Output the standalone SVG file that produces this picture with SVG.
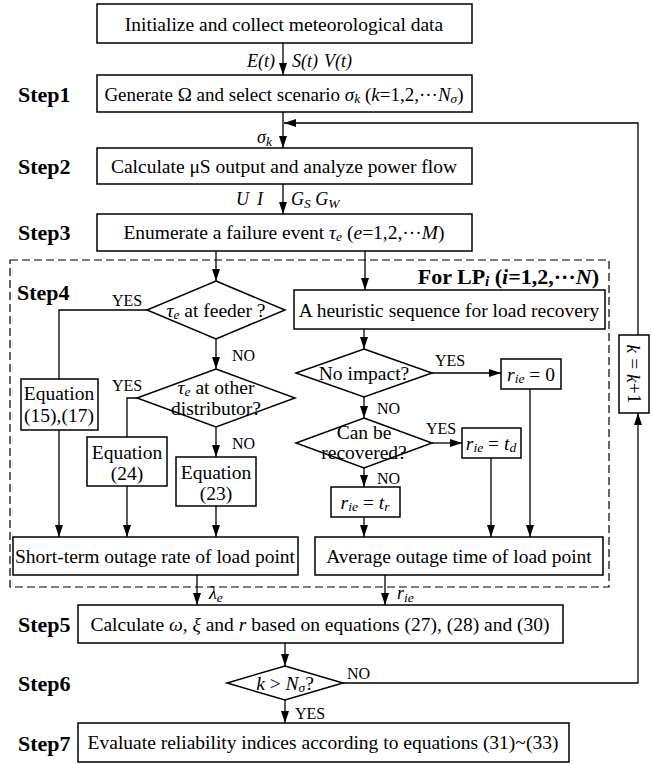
<svg xmlns="http://www.w3.org/2000/svg" width="652" height="764" viewBox="0 0 652 764">
<defs>
<marker id="ah" viewBox="0 0 12 8" refX="12" refY="4" markerWidth="12" markerHeight="8" markerUnits="userSpaceOnUse" orient="auto">
<path d="M0,0 L12,4 L0,8 Z" fill="#000"/>
</marker>
</defs>
<style>
.b{fill:#fff;stroke:#000;stroke-width:1.5}
.t{font-family:"Liberation Serif","Times New Roman",serif;font-size:19.5px;fill:#000;text-anchor:middle;dominant-baseline:central}
.s{font-family:"Liberation Serif","Times New Roman",serif;font-size:22px;font-weight:bold;fill:#000;dominant-baseline:central}
.l{font-family:"Liberation Serif","Times New Roman",serif;font-size:16px;fill:#000;dominant-baseline:central}
.m{font-family:"Liberation Serif","Times New Roman",serif;font-size:18px;font-style:italic;fill:#000;dominant-baseline:central}
.i{font-style:italic}
.u{font-size:13.5px}
.c{fill:none;stroke:#000;stroke-width:1.3}
.a{fill:none;stroke:#000;stroke-width:1.3;marker-end:url(#ah)}
.d{fill:none;stroke:#000;stroke-width:1.2;stroke-dasharray:8 4}
</style>
<rect x="0" y="0" width="652" height="764" fill="#fff"/>

<rect class="d" x="10" y="260" width="599" height="327"/>

<g id="labels">
<text class="s" x="18" y="94">Step1</text>
<text class="s" x="18" y="166">Step2</text>
<text class="s" x="18" y="232">Step3</text>
<text class="s" x="17" y="292">Step4</text>
<text class="s" x="18" y="624">Step5</text>
<text class="s" x="18" y="683">Step6</text>
<text class="s" x="18" y="743">Step7</text>
<text class="s" x="599" y="276" text-anchor="end">For LP<tspan class="i" style="font-size:15px" dy="5">i</tspan><tspan dy="-5"> (</tspan><tspan class="i">i</tspan>=1,2,···<tspan class="i">N</tspan>)</text>
</g>

<g id="connectors">
<line class="a" x1="283" y1="43" x2="283" y2="75"/>
<line class="a" x1="283" y1="112" x2="283" y2="148"/>
<polyline class="a" points="638,335 638,123 284,123"/>
<line class="a" x1="283" y1="184" x2="283" y2="214"/>
<line class="a" x1="216" y1="251" x2="216" y2="281"/>
<line class="a" x1="365" y1="251" x2="365" y2="290"/>
<polyline class="c" points="147,310 59,310 59,379"/>
<line class="a" x1="216" y1="339" x2="216" y2="369"/>
<polyline class="c" points="137,398 127,398 127,437"/>
<line class="a" x1="216" y1="427" x2="216" y2="457"/>
<line class="a" x1="59" y1="430" x2="59" y2="537"/>
<line class="a" x1="127" y1="486" x2="127" y2="537"/>
<line class="a" x1="216" y1="506" x2="216" y2="537"/>
<line class="a" x1="364" y1="329" x2="364" y2="349"/>
<line class="a" x1="432" y1="373" x2="501" y2="373"/>
<line class="a" x1="364" y1="397" x2="364" y2="418"/>
<line class="a" x1="432" y1="443" x2="462" y2="443"/>
<line class="a" x1="364" y1="468" x2="364" y2="487"/>
<line class="a" x1="364" y1="517" x2="364" y2="537"/>
<line class="a" x1="491" y1="458" x2="491" y2="537"/>
<line class="a" x1="530" y1="389" x2="530" y2="537"/>
<line class="a" x1="197" y1="575" x2="197" y2="605"/>
<line class="a" x1="385" y1="575" x2="385" y2="605"/>
<line class="a" x1="285" y1="643" x2="285" y2="666"/>
<polyline class="a" points="343,683 638,683 638,413"/>
<line class="a" x1="285" y1="700" x2="285" y2="723"/>
</g>

<g id="edge-labels">
<text class="m" x="275" y="61" text-anchor="end">E(t)</text>
<text class="m" x="292" y="61">S(t)</text>
<text class="m" x="324" y="61">V(t)</text>
<text class="m" x="257" y="137">σ<tspan class="u" dy="4">k</tspan></text>
<text class="m" x="236" y="199">U</text>
<text class="m" x="257" y="199">I</text>
<text class="m" x="291" y="199">G<tspan class="u" dy="4">S</tspan><tspan dy="-4"> G</tspan><tspan class="u" dy="4">W</tspan></text>
<text class="l" x="112" y="300">YES</text>
<text class="l" x="232" y="355">NO</text>
<text class="l" x="112" y="385">YES</text>
<text class="l" x="232" y="443">NO</text>
<text class="l" x="435" y="360">YES</text>
<text class="l" x="377" y="408">NO</text>
<text class="l" x="426" y="428">YES</text>
<text class="l" x="377" y="478">NO</text>
<text class="m" x="209" y="593">λ<tspan class="u" dy="4">e</tspan></text>
<text class="m" x="397" y="593">r<tspan class="u" dy="4">ie</tspan></text>
<text class="l" x="347" y="673">NO</text>
<text class="l" x="295" y="713">YES</text>
</g>

<g id="n-init"><rect class="b" x="97" y="4" width="375" height="39"/><text class="t" x="284" y="24">Initialize and collect meteorological data</text></g>
<g id="n-step1"><rect class="b" x="97" y="75" width="375" height="37"/><text class="t" x="284" y="94" style="font-size:19px">Generate Ω and select scenario <tspan class="i">σ</tspan><tspan class="i u" dy="4">k</tspan><tspan dy="-4"> (</tspan><tspan class="i">k</tspan>=1,2,···<tspan class="i">N</tspan><tspan class="i u" dy="4">σ</tspan><tspan dy="-4">)</tspan></text></g>
<g id="n-step2"><rect class="b" x="97" y="148" width="375" height="36"/><text class="t" x="284" y="166">Calculate μS output and analyze power flow</text></g>
<g id="n-step3"><rect class="b" x="97" y="214" width="375" height="37"/><text class="t" x="284" y="232">Enumerate a failure event <tspan class="i">τ</tspan><tspan class="i u" dy="4">e</tspan><tspan dy="-4"> (</tspan><tspan class="i">e</tspan>=1,2,···<tspan class="i">M</tspan>)</text></g>

<g id="n-feeder"><polygon class="b" points="216,281 285,310 216,339 147,310"/><text class="t" x="216" y="310"><tspan class="i">τ</tspan><tspan class="i u" dy="4">e</tspan><tspan dy="-4"> at feeder ?</tspan></text></g>
<g id="n-other"><polygon class="b" points="216,369 295,398 216,427 137,398"/><text class="t" x="216" y="387"><tspan class="i">τ</tspan><tspan class="i u" dy="4">e</tspan><tspan dy="-4"> at other</tspan></text><text class="t" x="216" y="408">distributor?</text></g>
<g id="n-eq1517"><rect class="b" x="21" y="379" width="77" height="51"/><text class="t" x="59" y="393">Equation</text><text class="t" x="59" y="415">(15),(17)</text></g>
<g id="n-eq24"><rect class="b" x="87" y="437" width="80" height="49"/><text class="t" x="127" y="452">Equation</text><text class="t" x="127" y="473">(24)</text></g>
<g id="n-eq23"><rect class="b" x="176" y="457" width="80" height="49"/><text class="t" x="216" y="472">Equation</text><text class="t" x="216" y="493">(23)</text></g>
<g id="n-short"><rect class="b" x="13" y="537" width="285" height="38"/><text class="t" x="155" y="556">Short-term outage rate of load point</text></g>

<g id="n-heur"><rect class="b" x="294" y="290" width="311" height="39"/><text class="t" x="449" y="310">A heuristic sequence for load recovery</text></g>
<g id="n-noimpact"><polygon class="b" points="364,349 432,373 364,397 296,373"/><text class="t" x="364" y="373">No impact?</text></g>
<g id="n-r0"><rect class="b" x="501" y="359" width="60" height="30"/><text class="t" x="531" y="374"><tspan class="i">r</tspan><tspan class="i u" dy="4">ie</tspan><tspan dy="-4"> = 0</tspan></text></g>
<g id="n-recov"><polygon class="b" points="364,418 432,443 364,468 296,443"/><text class="t" x="364" y="432">Can be</text><text class="t" x="364" y="452">recovered?</text></g>
<g id="n-rtd"><rect class="b" x="462" y="428" width="59" height="30"/><text class="t" x="491" y="443"><tspan class="i">r</tspan><tspan class="i u" dy="4">ie</tspan><tspan dy="-4"> = </tspan><tspan class="i">t</tspan><tspan class="i u" dy="4">d</tspan></text></g>
<g id="n-rtr"><rect class="b" x="331" y="487" width="69" height="30"/><text class="t" x="365" y="502"><tspan class="i">r</tspan><tspan class="i u" dy="4">ie</tspan><tspan dy="-4"> = </tspan><tspan class="i">t</tspan><tspan class="i u" dy="4">r</tspan></text></g>
<g id="n-avg"><rect class="b" x="315" y="537" width="288" height="38"/><text class="t" x="459" y="556">Average outage time of load point</text></g>

<g id="n-kk"><rect class="b" x="619" y="335" width="30" height="78"/><text class="t" x="634" y="374" transform="rotate(90 634 374)"><tspan class="i">k</tspan> = <tspan class="i">k</tspan>+1</text></g>

<g id="n-step5"><rect class="b" x="78" y="605" width="485" height="38"/><text class="t" x="320" y="624">Calculate <tspan class="i">ω, ξ</tspan> and <tspan class="i">r</tspan> based on equations (27), (28) and (30)</text></g>
<g id="n-step6"><polygon class="b" points="285,666 343,683 285,700 227,683"/><text class="t" x="285" y="683"><tspan class="i">k</tspan> &gt; <tspan class="i">N</tspan><tspan class="i u" dy="4">σ</tspan><tspan dy="-4">?</tspan></text></g>
<g id="n-step7"><rect class="b" x="78" y="723" width="491" height="39"/><text class="t" x="323" y="742">Evaluate reliability indices according to equations (31)~(33)</text></g>
</svg>
